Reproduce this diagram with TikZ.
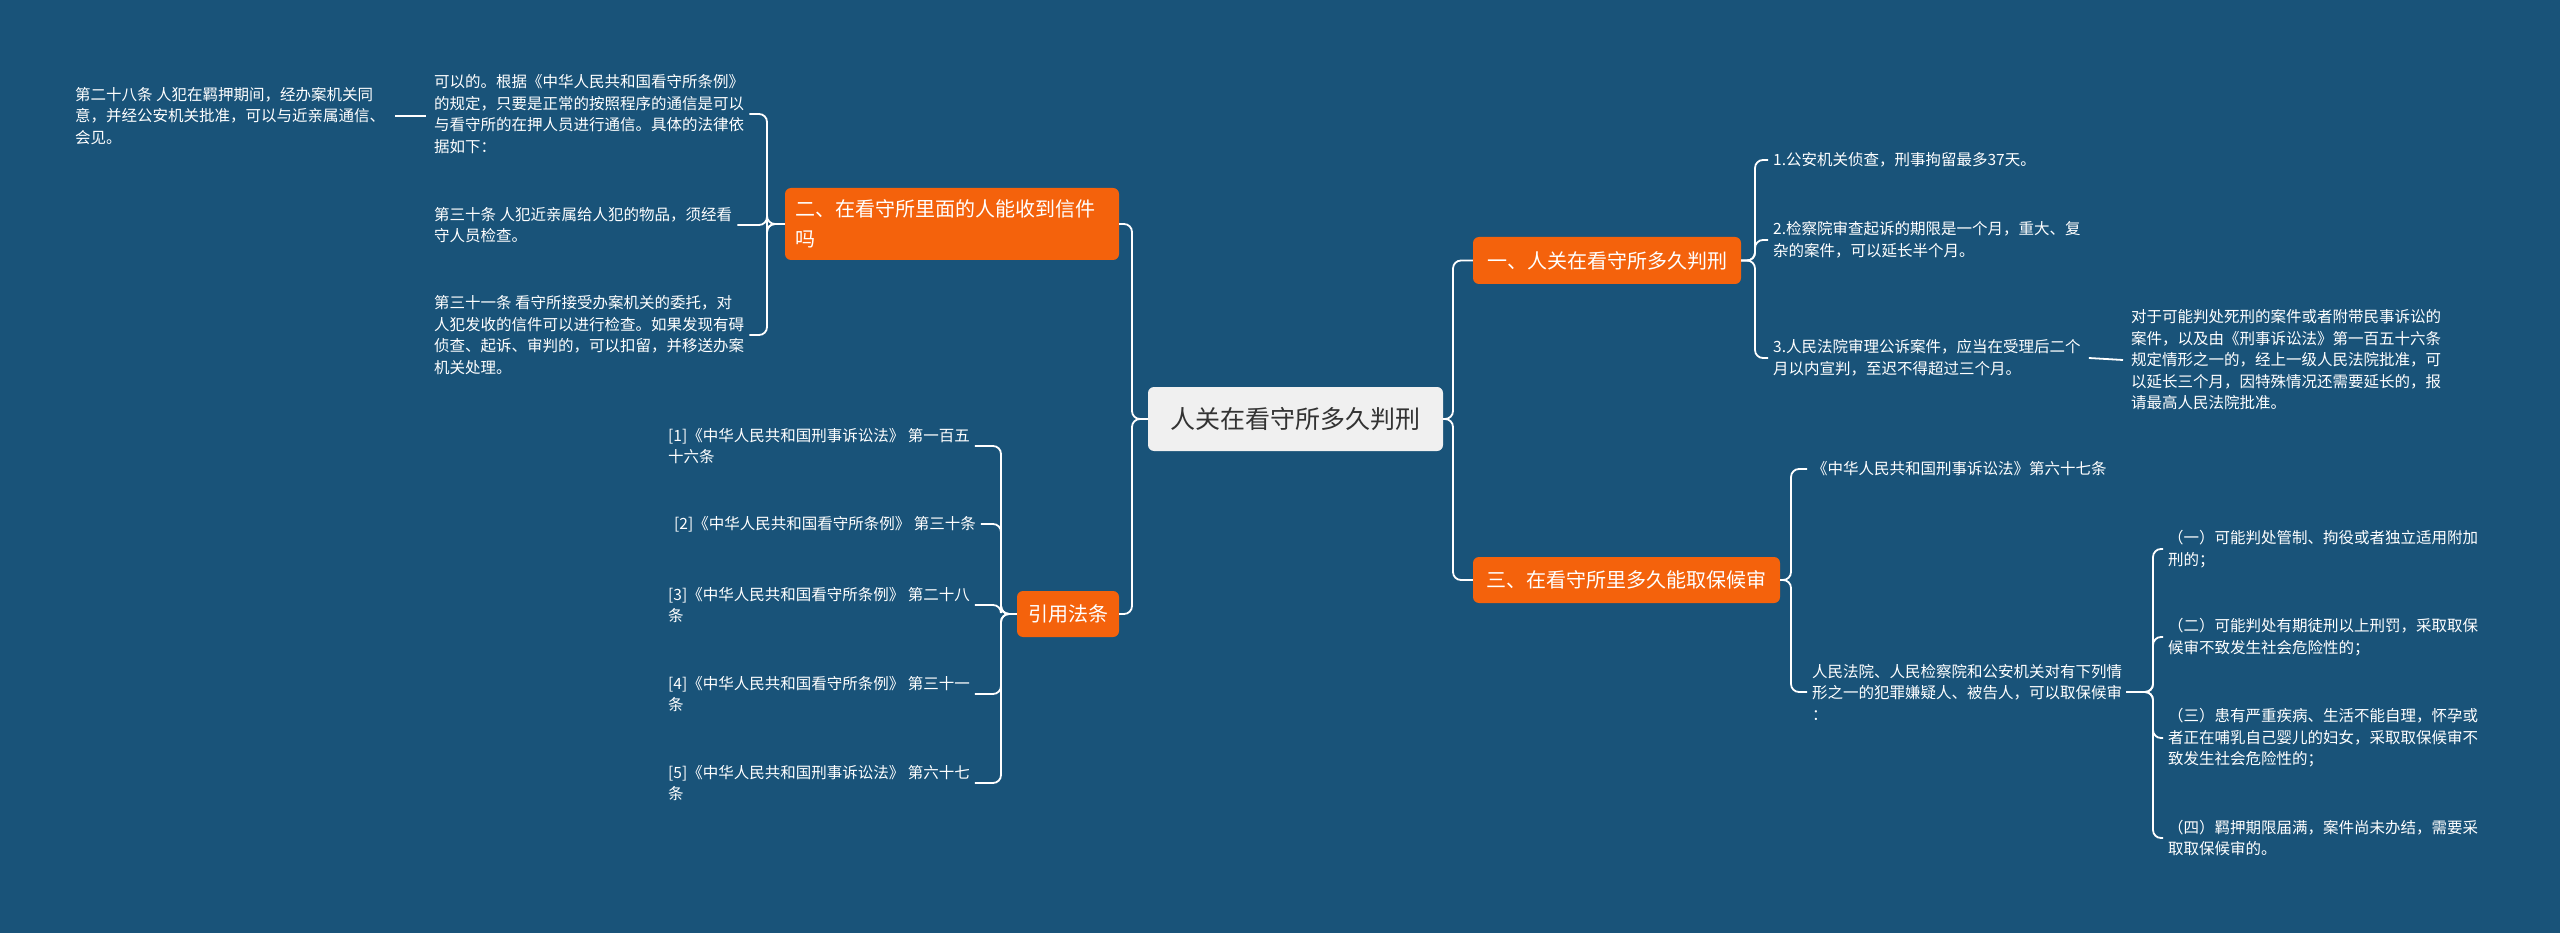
\documentclass[tikz,border=0pt]{standalone}
\usepackage{fontspec}
\setmainfont{Noto Sans CJK SC}
\definecolor{bg}{RGB}{25,83,121}
\definecolor{org}{RGB}{244,98,12}
\definecolor{cen}{RGB}{240,240,240}
\begin{document}
\begin{tikzpicture}[x=1pt,y=-1pt,
  txt/.style={font=\fontsize{15.5}{21.5}\selectfont, text=white, align=left, inner sep=0pt, anchor=west},
  onode/.style={fill=org, rounded corners=6pt, text=white, font=\fontsize{20}{30}\selectfont, inner sep=0pt, align=left},
  conn/.style={draw=white, line width=1.8pt, rounded corners=8pt}]
\fill[bg] (0,0) rectangle (2560,933);
\useasboundingbox (0,0) rectangle (2560,933);
% main nodes
\node[fill=cen, rounded corners=6pt, minimum width=295pt, minimum height=64pt, text=black!80, font=\fontsize{25}{30}\selectfont, inner sep=0pt] (C) at (1295.5,419) {人关在看守所多久判刑};
\node[onode, minimum width=268pt, minimum height=47pt] (n1) at (1607,260.5) {一、人关在看守所多久判刑};
\node[onode, minimum width=307pt, minimum height=46pt] (n3) at (1626.5,580) {三、在看守所里多久能取保候审};
\node[onode, text width=314pt, minimum height=72pt, inner xsep=10pt] (n2) at (952,224) {二、在看守所里面的人能收到信件\\吗};
\node[onode, minimum width=102pt, minimum height=46pt] (n4) at (1068,614) {引用法条};
\coordinate (bL) at (1132,0);
\coordinate (bR) at (1453,0);
\coordinate (b1) at (1755,0);
\coordinate (b3) at (1791,0);
\coordinate (b3s) at (2149,0);
\coordinate (b2) at (767,0);
\coordinate (b4) at (1001,0);
% right branch 1
\node[txt] (c1) at (1773,160) {1.公安机关侦查，刑事拘留最多37天。};
\node[txt] (c2) at (1773,240) {2.检察院审查起诉的期限是一个月，重大、复\\杂的案件，可以延长半个月。};
\node[txt] (c3) at (1773,358) {3.人民法院审理公诉案件，应当在受理后二个\\月以内宣判，至迟不得超过三个月。};
\node[txt] (d3) at (2131,360) {对于可能判处死刑的案件或者附带民事诉讼的\\案件，以及由《刑事诉讼法》第一百五十六条\\规定情形之一的，经上一级人民法院批准，可\\以延长三个月，因特殊情况还需要延长的，报\\请最高人民法院批准。};
% right branch 3
\node[txt] (e1) at (1812,469) {《中华人民共和国刑事诉讼法》第六十七条};
\node[txt] (e2) at (1812,692) {人民法院、人民检察院和公安机关对有下列情\\形之一的犯罪嫌疑人、被告人，可以取保候审\\：};
\node[txt] (f1) at (2168,549) {（一）可能判处管制、拘役或者独立适用附加\\刑的；};
\node[txt] (f2) at (2168,637) {（二）可能判处有期徒刑以上刑罚，采取取保\\候审不致发生社会危险性的；};
\node[txt] (f3) at (2168,738) {（三）患有严重疾病、生活不能自理，怀孕或\\者正在哺乳自己婴儿的妇女，采取取保候审不\\致发生社会危险性的；};
\node[txt] (f4) at (2168,838) {（四）羁押期限届满，案件尚未办结，需要采\\取取保候审的。};
% left branch 2
\node[txt] (a1) at (434,114) {可以的。根据《中华人民共和国看守所条例》\\的规定，只要是正常的按照程序的通信是可以\\与看守所的在押人员进行通信。具体的法律依\\据如下：};
\node[txt] (a2) at (434,225) {第三十条 人犯近亲属给人犯的物品，须经看\\守人员检查。};
\node[txt] (a3) at (434,335) {第三十一条 看守所接受办案机关的委托，对\\人犯发收的信件可以进行检查。如果发现有碍\\侦查、起诉、审判的，可以扣留，并移送办案\\机关处理。};
\node[txt] (a0) at (75,116) {第二十八条 人犯在羁押期间，经办案机关同\\意，并经公安机关批准，可以与近亲属通信、\\会见。};
% left branch refs
\node[txt] (r1) at (668,446) {[1]《中华人民共和国刑事诉讼法》 第一百五\\十六条};
\node[txt] (r2) at (674,524) {[2]《中华人民共和国看守所条例》 第三十条};
\node[txt] (r3) at (668,605) {[3]《中华人民共和国看守所条例》 第二十八\\条};
\node[txt] (r4) at (668,694) {[4]《中华人民共和国看守所条例》 第三十一\\条};
\node[txt] (r5) at (668,783) {[5]《中华人民共和国刑事诉讼法》 第六十七\\条};
% connectors
\foreach \t in {n1,n3} \draw[conn] (C.east) -- (C.east -| bR) |- (\t.west);
\foreach \t in {n2,n4} \draw[conn] (C.west) -- (C.west -| bL) |- (\t.east);
\foreach \t in {c1,c2,c3} \draw[conn] (n1.east) -- (n1.east -| b1) |- ([xshift=-5pt]\t.west);
\draw[conn] ([xshift=8pt]c3.east) -- ([xshift=-8pt]d3.west);
\foreach \t in {e1,e2} \draw[conn] (n3.east) -- (n3.east -| b3) |- ([xshift=-5pt]\t.west);
\foreach \t in {f1,f2,f3,f4} \draw[conn] ([xshift=4pt]e2.east) -- ([xshift=4pt]e2.east -| b3s) |- ([xshift=-5pt]\t.west);
\foreach \t in {a1,a2,a3} \draw[conn] (n2.west) -- (n2.west -| b2) |- ([xshift=5pt]\t.east);
\draw[conn] ([xshift=10pt]a0.east) -- ([xshift=-8pt]a0.east -| a1.west);
\foreach \t in {r1,r2,r3,r4,r5} \draw[conn] (n4.west) -- (n4.west -| b4) |- ([xshift=5pt]\t.east);
\end{tikzpicture}
\end{document}
